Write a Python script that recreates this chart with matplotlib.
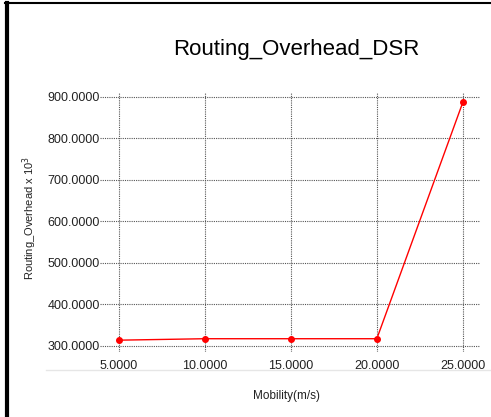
import matplotlib.pyplot as plt
from matplotlib.lines import Line2D

plt.rcParams['font.family'] = ['Liberation Sans', 'DejaVu Sans']

mobility = [5, 10, 15, 20, 25]
overhead = [314, 317.5, 317.5, 317.5, 887]
x_ticks = [5, 10, 15, 20, 25]
y_ticks = [300, 400, 500, 600, 700, 800, 900]

W, H = 491, 417
fig = plt.figure(figsize=(W / 100, H / 100), dpi=100)

# axes box in pixels: left 100, right 480, top 92, bottom 352
ax = fig.add_axes([100 / W, 1 - 352 / H, 380 / W, 260 / H])
ax.plot(mobility, overhead, color='red', lw=1, marker='o', ms=4, mec='red', mfc='red')
ax.set_xlim(3.9, 26.0)
ax.set_ylim(285.5, 912)
ax.set_xticks(x_ticks)
ax.set_yticks(y_ticks)
ax.set_xticklabels(['%.4f' % v for v in x_ticks], fontsize=9, color='#222222')
ax.set_yticklabels(['%.4f' % v for v in y_ticks], fontsize=9, color='#222222')
ax.tick_params(length=0, axis='x', pad=6)
ax.tick_params(length=0, axis='y', pad=0)
ax.grid(True, color='#555555', ls=(0, (1, 1)), lw=0.8)
for s in ax.spines.values():
    s.set_visible(False)
ax.set_facecolor('none')

fig.text(296 / W, 1 - 50 / H, 'Routing_Overhead_DSR', ha='center', va='center', fontsize=16)
fig.text(30 / W, 1 - 218 / H, 'Routing_Overhead x 10$^3$', rotation=90,
         ha='center', va='center', fontsize=8, color='#222222')
fig.text(287 / W, 1 - 396 / H, 'Mobility(m/s)', ha='center', va='center',
         fontsize=8.5, color='#222222')

# window frame and separator line
fig.add_artist(Line2D([6.5 / W, 6.5 / W], [0, 1 - 3 / H], color='black', lw=3))
fig.add_artist(Line2D([5 / W, 1], [1 - 3 / H, 1 - 3 / H], color='black', lw=1.5))
fig.add_artist(Line2D([46 / W, 1], [1 - 370 / H, 1 - 370 / H], color='#e6e6e6', lw=1))

fig.savefig('out.png', dpi=100)
